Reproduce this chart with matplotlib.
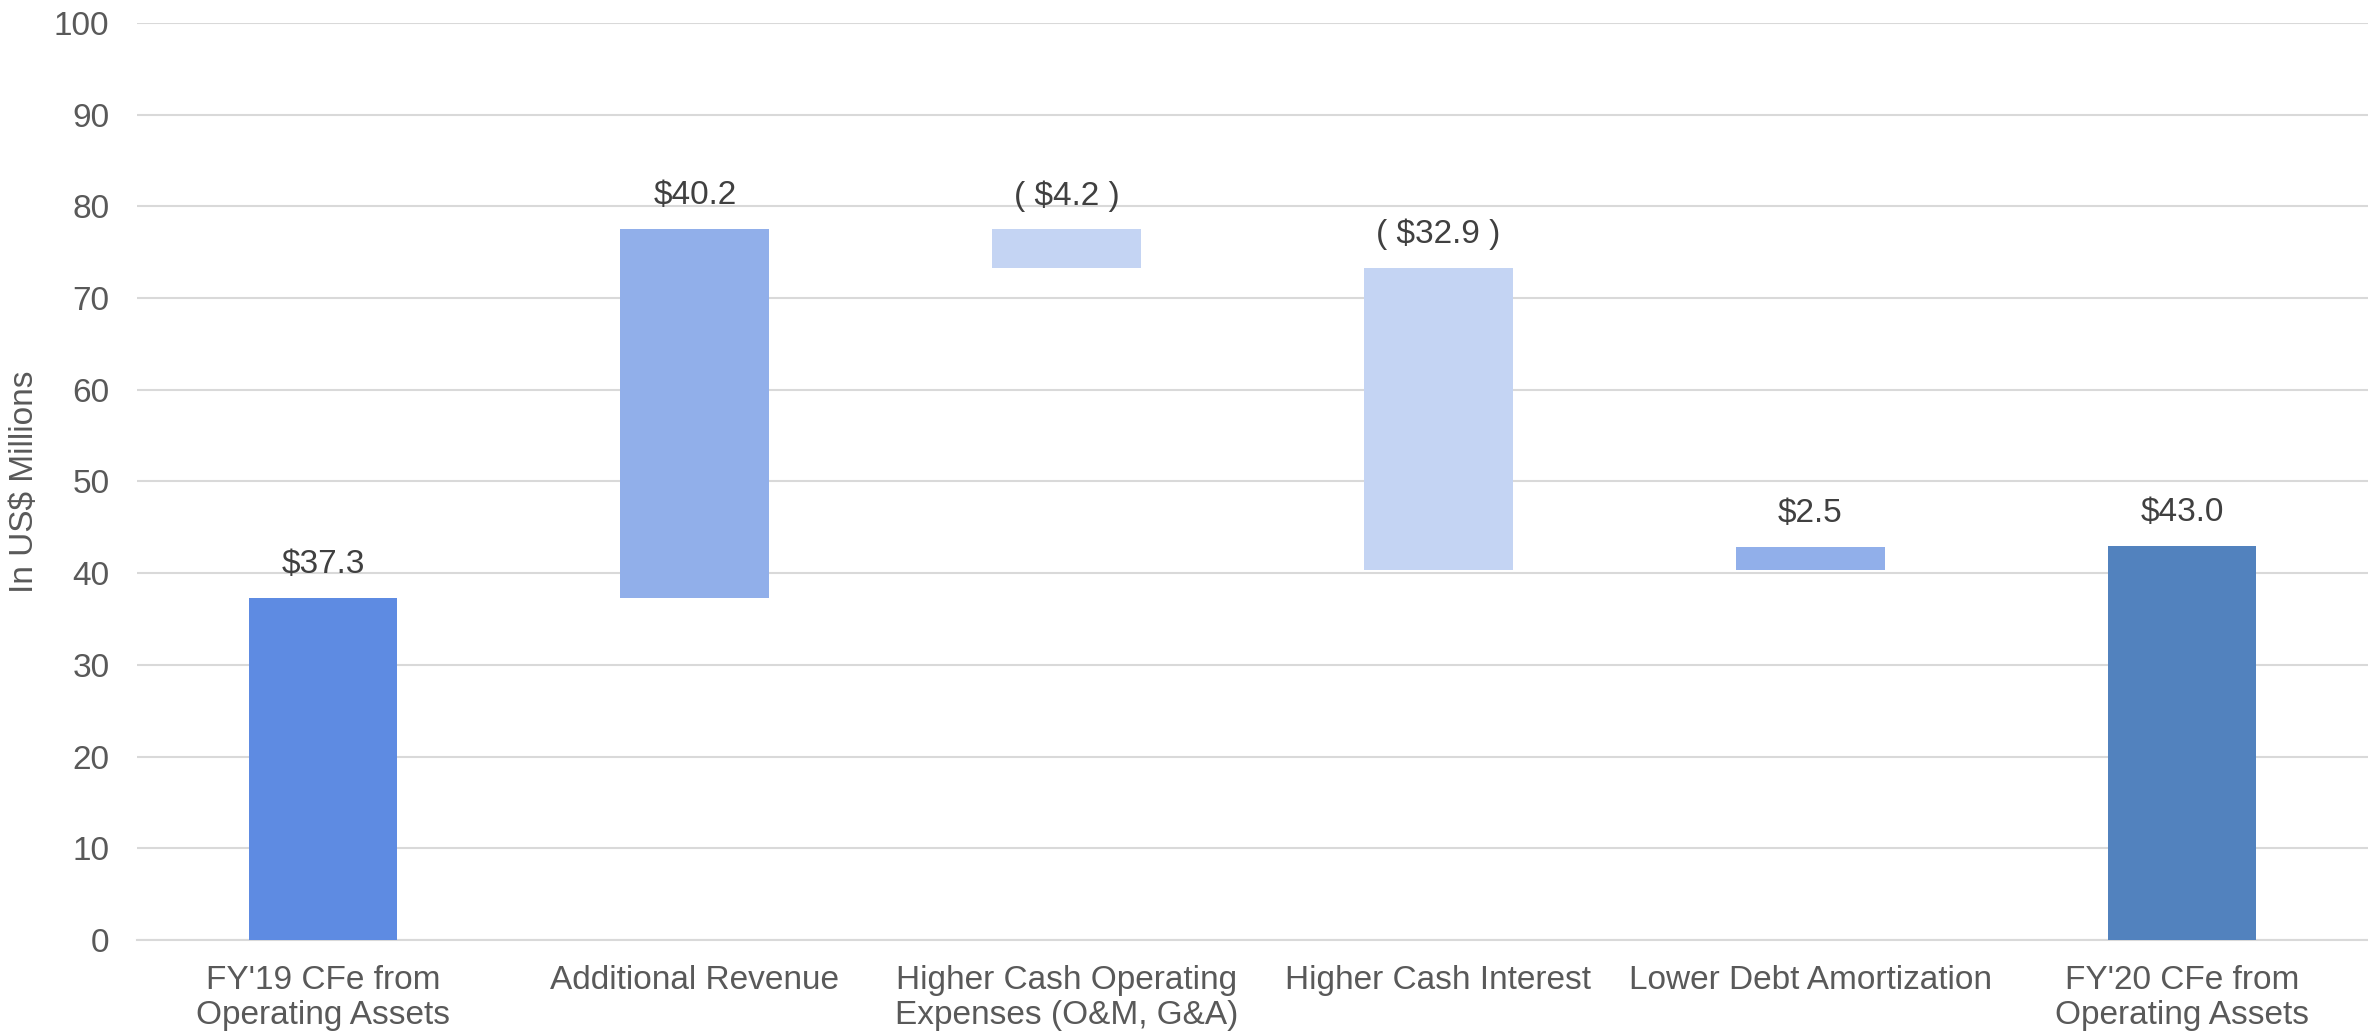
import matplotlib
matplotlib.use("Agg")
import matplotlib.pyplot as plt

categories = ["FY'19 CFe from\nOperating Assets", "Additional Revenue",
              "Higher Cash Operating\nExpenses (O&M, G&A)", "Higher Cash Interest",
              "Lower Debt Amortization", "FY'20 CFe from\nOperating Assets"]
# bottoms and tops of each waterfall bar
bar_bottom = [0.0, 37.3, 73.3, 40.4, 40.4, 0.0]
bar_top = [37.3, 77.5, 77.5, 73.3, 42.9, 43.0]
labels = ["$37.3", "$40.2", "( $4.2 )", "( $32.9 )", "$2.5", "$43.0"]
colors = ["#5E8BE2", "#91AFEA", "#C4D4F3", "#C4D4F3", "#91AFEA", "#5282BE"]
yticks = [0, 10, 20, 30, 40, 50, 60, 70, 80, 90, 100]

plt.rcParams['font.family'] = ['Liberation Sans', 'DejaVu Sans']

fig = plt.figure(figsize=(23.68, 10.36), dpi=100)
ax = fig.add_axes([0.0579, 0.0927, 0.9421, 0.8851])

x = list(range(len(categories)))
heights = [t - b for t, b in zip(bar_top, bar_bottom)]
ax.bar(x, heights, bottom=bar_bottom, width=0.40, color=colors, zorder=3)

for xi, top, lab in zip(x, bar_top, labels):
    ax.annotate(lab, (xi, top), xytext=(0, 24), textcoords='offset points',
                ha='center', va='center', fontsize=24, color='#404040')

ax.set_xlim(-0.5, len(categories) - 0.5)
ax.set_ylim(0, 100)
ax.set_yticks(yticks)
ax.set_xticks(x)
ax.set_xticklabels(categories, fontsize=24, color='#595959', linespacing=1.15)
ax.tick_params(axis='y', labelsize=24, labelcolor='#595959', length=0, pad=20)
ax.tick_params(axis='x', length=0, pad=18)
ax.grid(axis='y', color='#D9D9D9', linewidth=1.5, zorder=0)
for s in ['top', 'right', 'left']:
    ax.spines[s].set_visible(False)
ax.spines['bottom'].set_color('#D9D9D9')
ax.spines['bottom'].set_linewidth(1.5)
ax.set_ylabel("In US$ Millions", fontsize=24, color='#595959', labelpad=10)

fig.savefig("out.png", dpi=100)
